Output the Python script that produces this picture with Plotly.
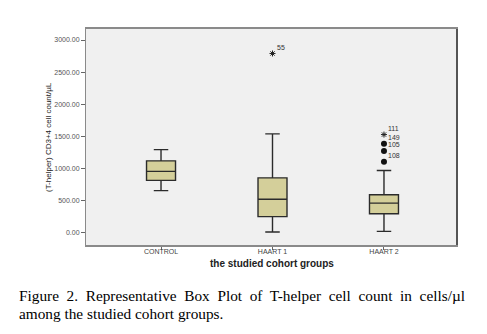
import plotly.graph_objects as go

# Group summary statistics (cells/µL)
groups = ["CONTROL", "HAART 1", "HAART 2"]
lower_whisker = [650, 5, 15]
q1_vals = [810, 245, 290]
median_vals = [950, 515, 455]
q3_vals = [1115, 850, 585]
upper_whisker = [1290, 1535, 965]

# Extreme values (asterisk) and outliers (dot) with their case numbers
extreme_group = ["HAART 1", "HAART 2"]
extreme_vals = [2790, 1525]
extreme_ids = ["55", "111"]

outlier_group = ["HAART 2", "HAART 2", "HAART 2"]
outlier_vals = [1380, 1270, 1100]
outlier_ids = ["149", "105", "108"]

y_ticks = [0, 500, 1000, 1500, 2000, 2500, 3000]

caption_line1 = "Figure 2. Representative Box Plot of T-helper cell count in cells/µl"
caption_line2 = "among the studied cohort groups."

W, H = 487, 334
M_L, M_R, M_T, M_B = 86, 30, 29, 89
plot_w = W - M_L - M_R
plot_h = H - M_T - M_B


def py(pixel_y):
    """Paper y-coordinate for a pixel row of the page."""
    return (H - M_B - pixel_y) / plot_h


def px(pixel_x):
    """Paper x-coordinate for a pixel column of the page."""
    return (pixel_x - M_L) / plot_w


def justify(text):
    """Widen the word gaps of a full caption line."""
    return text.replace(" ", "\u00a0 ")


fig = go.Figure()

fig.add_trace(go.Box(
    x=groups,
    q1=q1_vals,
    median=median_vals,
    q3=q3_vals,
    lowerfence=lower_whisker,
    upperfence=upper_whisker,
    width=0.26,
    whiskerwidth=0.5,
    fillcolor="#D4CF9A",
    line=dict(color="#2b2b2b", width=1.4),
    boxpoints=False,
    hoverinfo="skip",
    showlegend=False,
))

fig.add_trace(go.Scatter(
    x=extreme_group, y=extreme_vals, mode="markers",
    marker=dict(symbol="asterisk", size=5, line=dict(color="#222", width=1)),
    showlegend=False, hoverinfo="skip",
))

fig.add_trace(go.Scatter(
    x=outlier_group, y=outlier_vals, mode="markers",
    marker=dict(symbol="circle", size=6, color="#111"),
    showlegend=False, hoverinfo="skip",
))

annotations = []
for g, v, t in list(zip(extreme_group, extreme_vals, extreme_ids)) + \
        list(zip(outlier_group, outlier_vals, outlier_ids)):
    annotations.append(dict(
        x=g, y=v, xref="x", yref="y", text=t, showarrow=False,
        xanchor="left", yanchor="middle", xshift=2, yshift=6,
        font=dict(family="Arial, Liberation Sans", size=7, color="#333"),
    ))

# Axis titles
annotations.append(dict(
    x=0, y=0.5, xref="paper", yref="paper", xshift=-38,
    text="(T-helper) CD3+4 cell count/µL", textangle=-90, showarrow=False,
    xanchor="center", yanchor="middle",
    font=dict(family="Arial, Liberation Sans", size=8, color="#222"),
))
annotations.append(dict(
    x=px(272), y=py(263), xref="paper", yref="paper",
    text="<b>the studied cohort groups</b>", showarrow=False,
    xanchor="center", yanchor="middle",
    font=dict(family="Arial, Liberation Sans", size=10, color="#222"),
))

# Figure caption
caption_font = dict(family="Liberation Serif, Times New Roman", size=15.3, color="#000")
annotations.append(dict(
    x=px(19), y=py(295.5), xref="paper", yref="paper",
    text=justify(caption_line1),
    showarrow=False, xanchor="left", yanchor="middle", font=caption_font,
    xshift=-1, borderpad=0,
))
annotations.append(dict(
    x=px(19), y=py(313.5), xref="paper", yref="paper",
    text=caption_line2,
    showarrow=False, xanchor="left", yanchor="middle", font=caption_font,
    xshift=-1, borderpad=0,
))

fig.update_layout(
    width=W, height=H,
    margin=dict(l=M_L, r=M_R, t=M_T, b=M_B),
    paper_bgcolor="white",
    plot_bgcolor="#F0F0F0",
    annotations=annotations,
    xaxis=dict(
        type="category", range=[-0.673, 2.655],
        showgrid=False, zeroline=False,
        ticks="outside", ticklen=3, tickcolor="#666", tickwidth=1,
        ticklabelstandoff=-4,
        tickfont=dict(family="Arial, Liberation Sans", size=7, color="#444"),
        showline=True, linecolor="#8a8a8a", linewidth=2, mirror=True,
    ),
    yaxis=dict(
        range=[-198, 3172], tickvals=y_ticks, tickformat=".2f",
        showgrid=False, zeroline=False,
        ticks="outside", ticklen=4, tickcolor="#666", tickwidth=1,
        tickfont=dict(family="Arial, Liberation Sans", size=7, color="#555"),
        showline=True, linecolor="#8a8a8a", linewidth=1, mirror=True,
    ),
    shapes=[dict(type="line", xref="paper", yref="paper", x0=1, x1=1, y0=0, y1=1,
                 line=dict(color="#555", width=2))],
)

fig.write_html("out.html")
